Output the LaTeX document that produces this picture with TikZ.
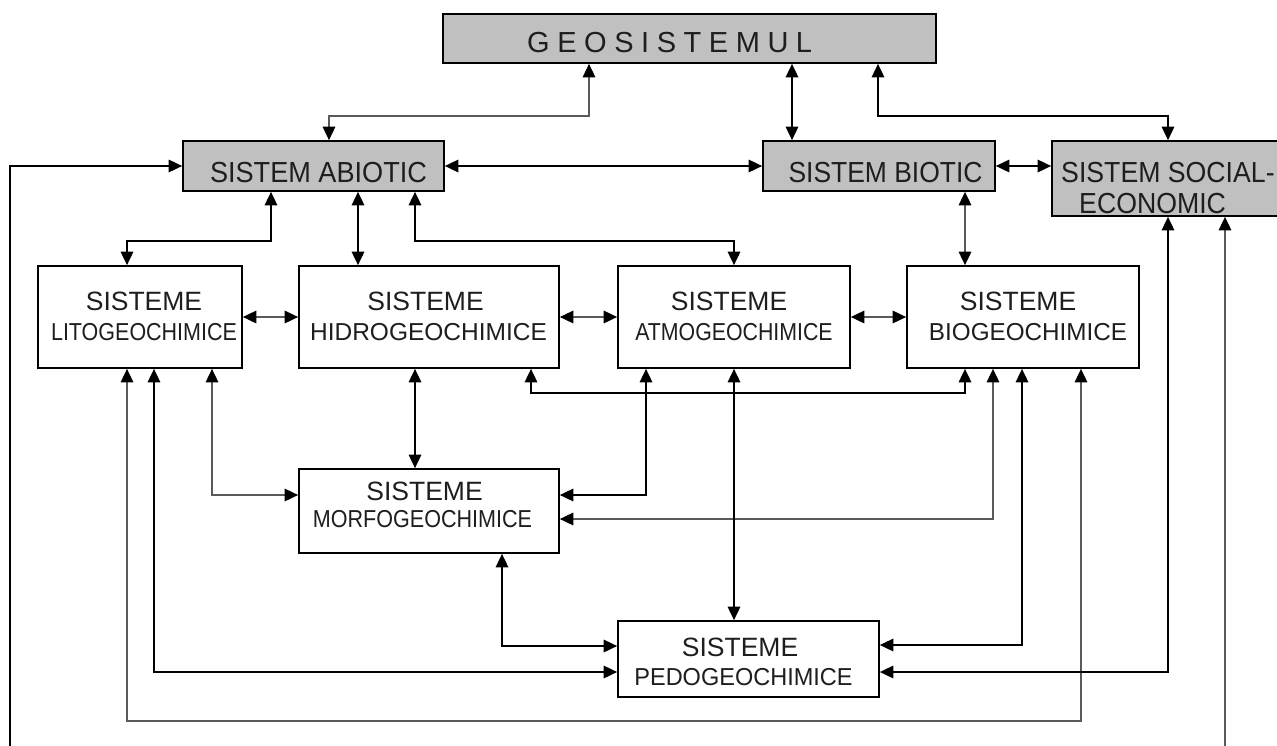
\documentclass[tikz,border=0pt]{standalone}
\usepackage{fontspec}
\setmainfont{Liberation Sans}
\usepackage{graphicx}
\usetikzlibrary{arrows.meta}
\definecolor{boxgray}{RGB}{192,192,192}
\definecolor{linegray}{RGB}{90,90,90}
\definecolor{textdark}{RGB}{30,30,30}
\newcommand\sx[2]{\scalebox{#1}[1]{#2}}
\begin{document}
\begin{tikzpicture}[x=1pt,y=-1pt,
  box/.style={draw=black,line width=1.7pt,rectangle,inner sep=0pt},
  graybox/.style={box,fill=boxgray},
  tip/.tip={Triangle[length=13.5pt,width=12.5pt,color=black]},
  conn/.style={line width=1.7pt,draw=black,tip-tip},
  gconn/.style={conn,draw=linegray},
  oneway/.style={line width=1.7pt,draw=black,-tip},
  goneway/.style={oneway,draw=linegray},
  big/.style={font=\fontsize{29}{31}\selectfont,text=textdark,inner sep=0pt,anchor=base},
  first/.style={font=\fontsize{26.5}{31}\selectfont,text=textdark,inner sep=0pt,anchor=base},
  second/.style={font=\fontsize{24.5}{31}\selectfont,text=textdark,inner sep=0pt,anchor=base}]
\useasboundingbox (0,0) rectangle (1277,745);
\fill[white] (0,0) rectangle (1277,745);
% boxes
\node[graybox,minimum width=493pt,minimum height=49pt] (geo) at (689.5,38.5) {};
\node[graybox,minimum width=261pt,minimum height=50pt] (abio) at (313.5,166) {};
\node[graybox,minimum width=232pt,minimum height=50pt] (bioti) at (879,166) {};
\node[graybox,minimum width=260pt,minimum height=75pt] (soc) at (1182,178.5) {};
\node[box,minimum width=204pt,minimum height=102pt] (lito) at (140,317) {};
\node[box,minimum width=260pt,minimum height=102pt] (hidro) at (429,317) {};
\node[box,minimum width=232pt,minimum height=102pt] (atmo) at (734,317) {};
\node[box,minimum width=232pt,minimum height=102pt] (bio) at (1023,317) {};
\node[box,minimum width=260pt,minimum height=84pt] (morfo) at (429,511) {};
\node[box,minimum width=261pt,minimum height=76pt] (pedo) at (748.5,659) {};
% texts
\node[big,anchor=base west] (geo-t) at (527,52) {\addfontfeature{LetterSpace=26}GEOSISTEMUL};
\node[big] (abio-t) at (318.5,182) {\sx{.935}{SISTEM ABIOTIC}};
\node[big] (bioti-t) at (885.5,182) {\sx{.912}{SISTEM BIOTIC}};
\node[big,anchor=base west] (soc-t1) at (1061,182) {\sx{.92}{SISTEM SOCIAL-}};
\node[big,anchor=base west] (soc-t2) at (1079,213) {\sx{.92}{ECONOMIC}};
\node[first] (lito-t1) at (144,310) {SISTEME};
\node[second] (lito-t2) at (144,340) {\sx{.877}{LITOGEOCHIMICE}};
\node[first] (hidro-t1) at (425.5,310) {SISTEME};
\node[second] (hidro-t2) at (428.5,340) {HIDROGEOCHIMICE};
\node[first] (atmo-t1) at (729,310) {SISTEME};
\node[second] (atmo-t2) at (734,340) {\sx{.87}{ATMOGEOCHIMICE}};
\node[first] (bio-t1) at (1018,310) {SISTEME};
\node[second] (bio-t2) at (1028,340) {\sx{.99}{BIOGEOCHIMICE}};
\node[first] (morfo-t1) at (424.5,500) {SISTEME};
\node[second] (morfo-t2) at (422.5,527) {\sx{.88}{MORFOGEOCHIMICE}};
\node[first] (pedo-t1) at (740,656) {SISTEME};
\node[second] (pedo-t2) at (743.5,685) {\sx{.96}{PEDOGEOCHIMICE}};
% free ends
\coordinate (lb) at (10,760);
\coordinate (rb) at (1225,760);
% connectors
\draw[gconn] (589,0 |- geo.south) -- (589,116) -| (329,0 |- abio.north);
\draw[conn] (792,0 |- geo.south) -- (792,0 |- bioti.north);
\draw[conn] (878,0 |- geo.south) -- (878,116) -| (1168,0 |- soc.north);
\draw[conn] (abio.east) -- (bioti.west);
\draw[conn] (bioti.east) -- (bioti.east -| soc.west);
\draw[oneway] (lb) |- (abio.west);
\draw[goneway] (rb) -- (1225,0 |- soc.south);
\draw[conn] (271,0 |- abio.south) -- (271,241) -| (127,0 |- lito.north);
\draw[conn] (358,0 |- abio.south) -- (358,0 |- hidro.north);
\draw[conn] (415,0 |- abio.south) -- (415,241) -| (734,0 |- atmo.north);
\draw[gconn] (965,0 |- bioti.south) -- (965,0 |- bio.north);
\draw[gconn] (lito.east) -- (hidro.west);
\draw[gconn] (hidro.east) -- (atmo.west);
\draw[gconn] (atmo.east) -- (bio.west);
\draw[gconn] (212,0 |- lito.south) |- (morfo.west |- 0,495);
\draw[conn] (415,0 |- hidro.south) -- (415,0 |- morfo.north);
\draw[conn] (646,0 |- atmo.south) |- (morfo.east |- 0,495);
\draw[conn] (531,0 |- hidro.south) -- (531,393) -| (965,0 |- bio.south);
\draw[gconn] (993,0 |- bio.south) |- (morfo.east |- 0,519);
\draw[conn] (1022,0 |- bio.south) |- (pedo.east |- 0,645);
\draw[gconn] (1081,0 |- bio.south) -- (1081,721) -| (127,0 |- lito.south);
\draw[conn] (734,0 |- atmo.south) -- (734,0 |- pedo.north);
\draw[conn] (502,0 |- morfo.south) |- (pedo.west |- 0,646);
\draw[conn] (154,0 |- lito.south) |- (pedo.west |- 0,672);
\draw[conn] (1168,0 |- soc.south) |- (pedo.east |- 0,672);
\end{tikzpicture}
\end{document}
